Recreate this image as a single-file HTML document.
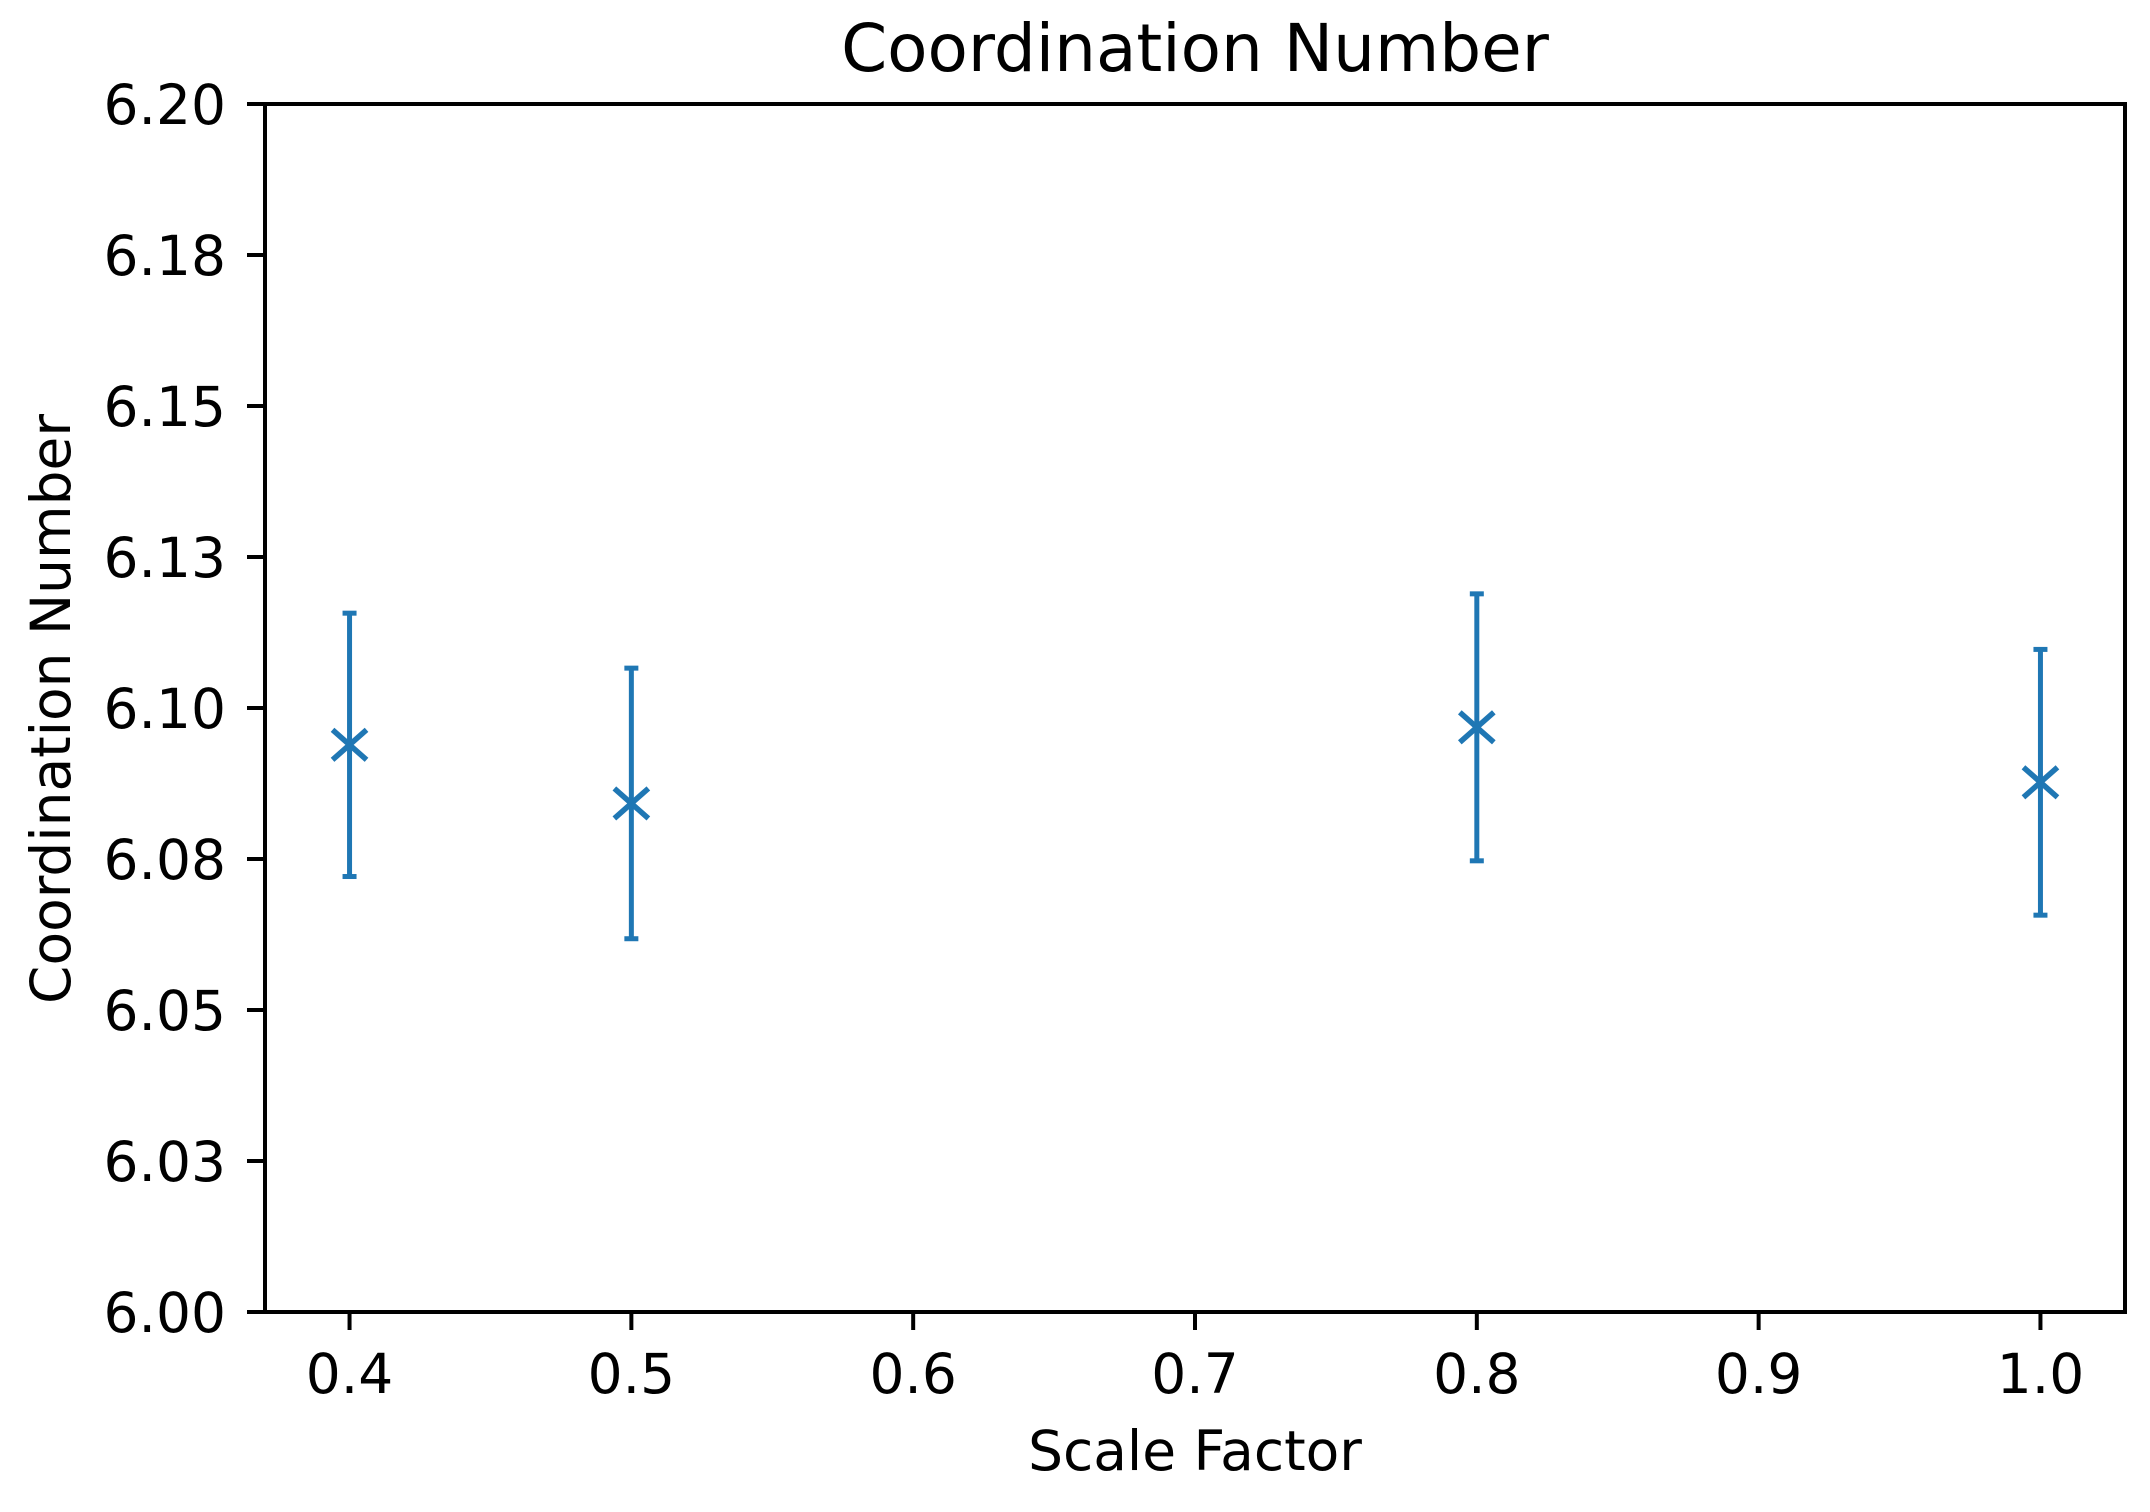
<!DOCTYPE html>
<html><head><meta charset="utf-8"><style>
html,body{margin:0;padding:0;background:#fff;}
svg{display:block;font-family:"DejaVu Sans","Liberation Sans",sans-serif;}
</style></head><body>
<svg id="chart" width="2150" height="1512" viewBox="0 0 2150 1512" xmlns="http://www.w3.org/2000/svg">
<rect width="2150" height="1512" fill="#fff"/>
<text x="1195" y="71" font-size="66" text-anchor="middle">Coordination Number</text>
<text x="1195" y="1470" font-size="55" text-anchor="middle">Scale Factor</text>
<text transform="translate(70,709) rotate(-90)" font-size="55" text-anchor="middle">Coordination Number</text>
<g id="ticks"></g>
<g id="marks"></g>
<rect x="265" y="104" width="1860" height="1208" fill="none" stroke="#000" stroke-width="4"/>
</svg>
<script>
const xCats = [0.4, 0.5, 0.8, 1.0];
const yVals = [6.0939, 6.0842, 6.0968, 6.0877];
const yErr = [0.0218, 0.0224, 0.0221, 0.0220];
const xTicks = [0.4, 0.5, 0.6, 0.7, 0.8, 0.9, 1.0];
const xTickLabels = ["0.4", "0.5", "0.6", "0.7", "0.8", "0.9", "1.0"];
const yTicks = [6.0, 6.025, 6.05, 6.075, 6.1, 6.125, 6.15, 6.175, 6.2];
const yTickLabels = ["6.00", "6.03", "6.05", "6.08", "6.10", "6.13", "6.15", "6.18", "6.20"];

const L = 265, R = 2125, T = 104, B = 1312;
const xMin = 0.37, xMax = 1.03, yMin = 6.0, yMax = 6.2;
function xs(v){ return L + (v - xMin) / (xMax - xMin) * (R - L); }
function ys(v){ return B - (v - yMin) / (yMax - yMin) * (B - T); }
const NS = "http://www.w3.org/2000/svg";
function mk(tag, attrs, parent){
  const e = document.createElementNS(NS, tag);
  for (const k in attrs) e.setAttribute(k, attrs[k]);
  parent.appendChild(e);
  return e;
}
const tg = document.getElementById('ticks');
xTicks.forEach((t, i) => {
  const x = xs(t);
  const l = mk('line', {x1:x, x2:x, y1:B, y2:B+18, stroke:'#000', 'stroke-width':4}, tg);
  
  
  const tx = mk('text', {x:x, y:1393, 'font-size':55, 'text-anchor':'middle'}, tg);
  tx.textContent = xTickLabels[i];
  
  
});
yTicks.forEach((t, i) => {
  const y = ys(t);
  const l = mk('line', {x1:L-18, x2:L, y1:y, y2:y, stroke:'#000', 'stroke-width':4}, tg);
  
  
  const tx = mk('text', {x:226, y:y+20, 'font-size':55, 'text-anchor':'end'}, tg);
  tx.textContent = yTickLabels[i];
  
  
});
const mg = document.getElementById('marks');
const c = '#1f77b4';
xCats.forEach((xv, i) => {
  const x = xs(xv), y = ys(yVals[i]);
  const yt = ys(yVals[i] + yErr[i]), yb = ys(yVals[i] - yErr[i]);
  const g = mk('g', {}, mg);
  
  
  mk('line', {x1:x, x2:x, y1:yt, y2:yb, stroke:c, 'stroke-width':5}, g);
  mk('line', {x1:x-7, x2:x+7, y1:yt, y2:yt, stroke:c, 'stroke-width':5}, g);
  mk('line', {x1:x-7, x2:x+7, y1:yb, y2:yb, stroke:c, 'stroke-width':5}, g);
  mk('path', {d:`M${x-17},${y-15}L${x+17},${y+15}M${x-17},${y+15}L${x+17},${y-15}`, stroke:c, 'stroke-width':5.5, fill:'none'}, g);
});
</script>
</body></html>
